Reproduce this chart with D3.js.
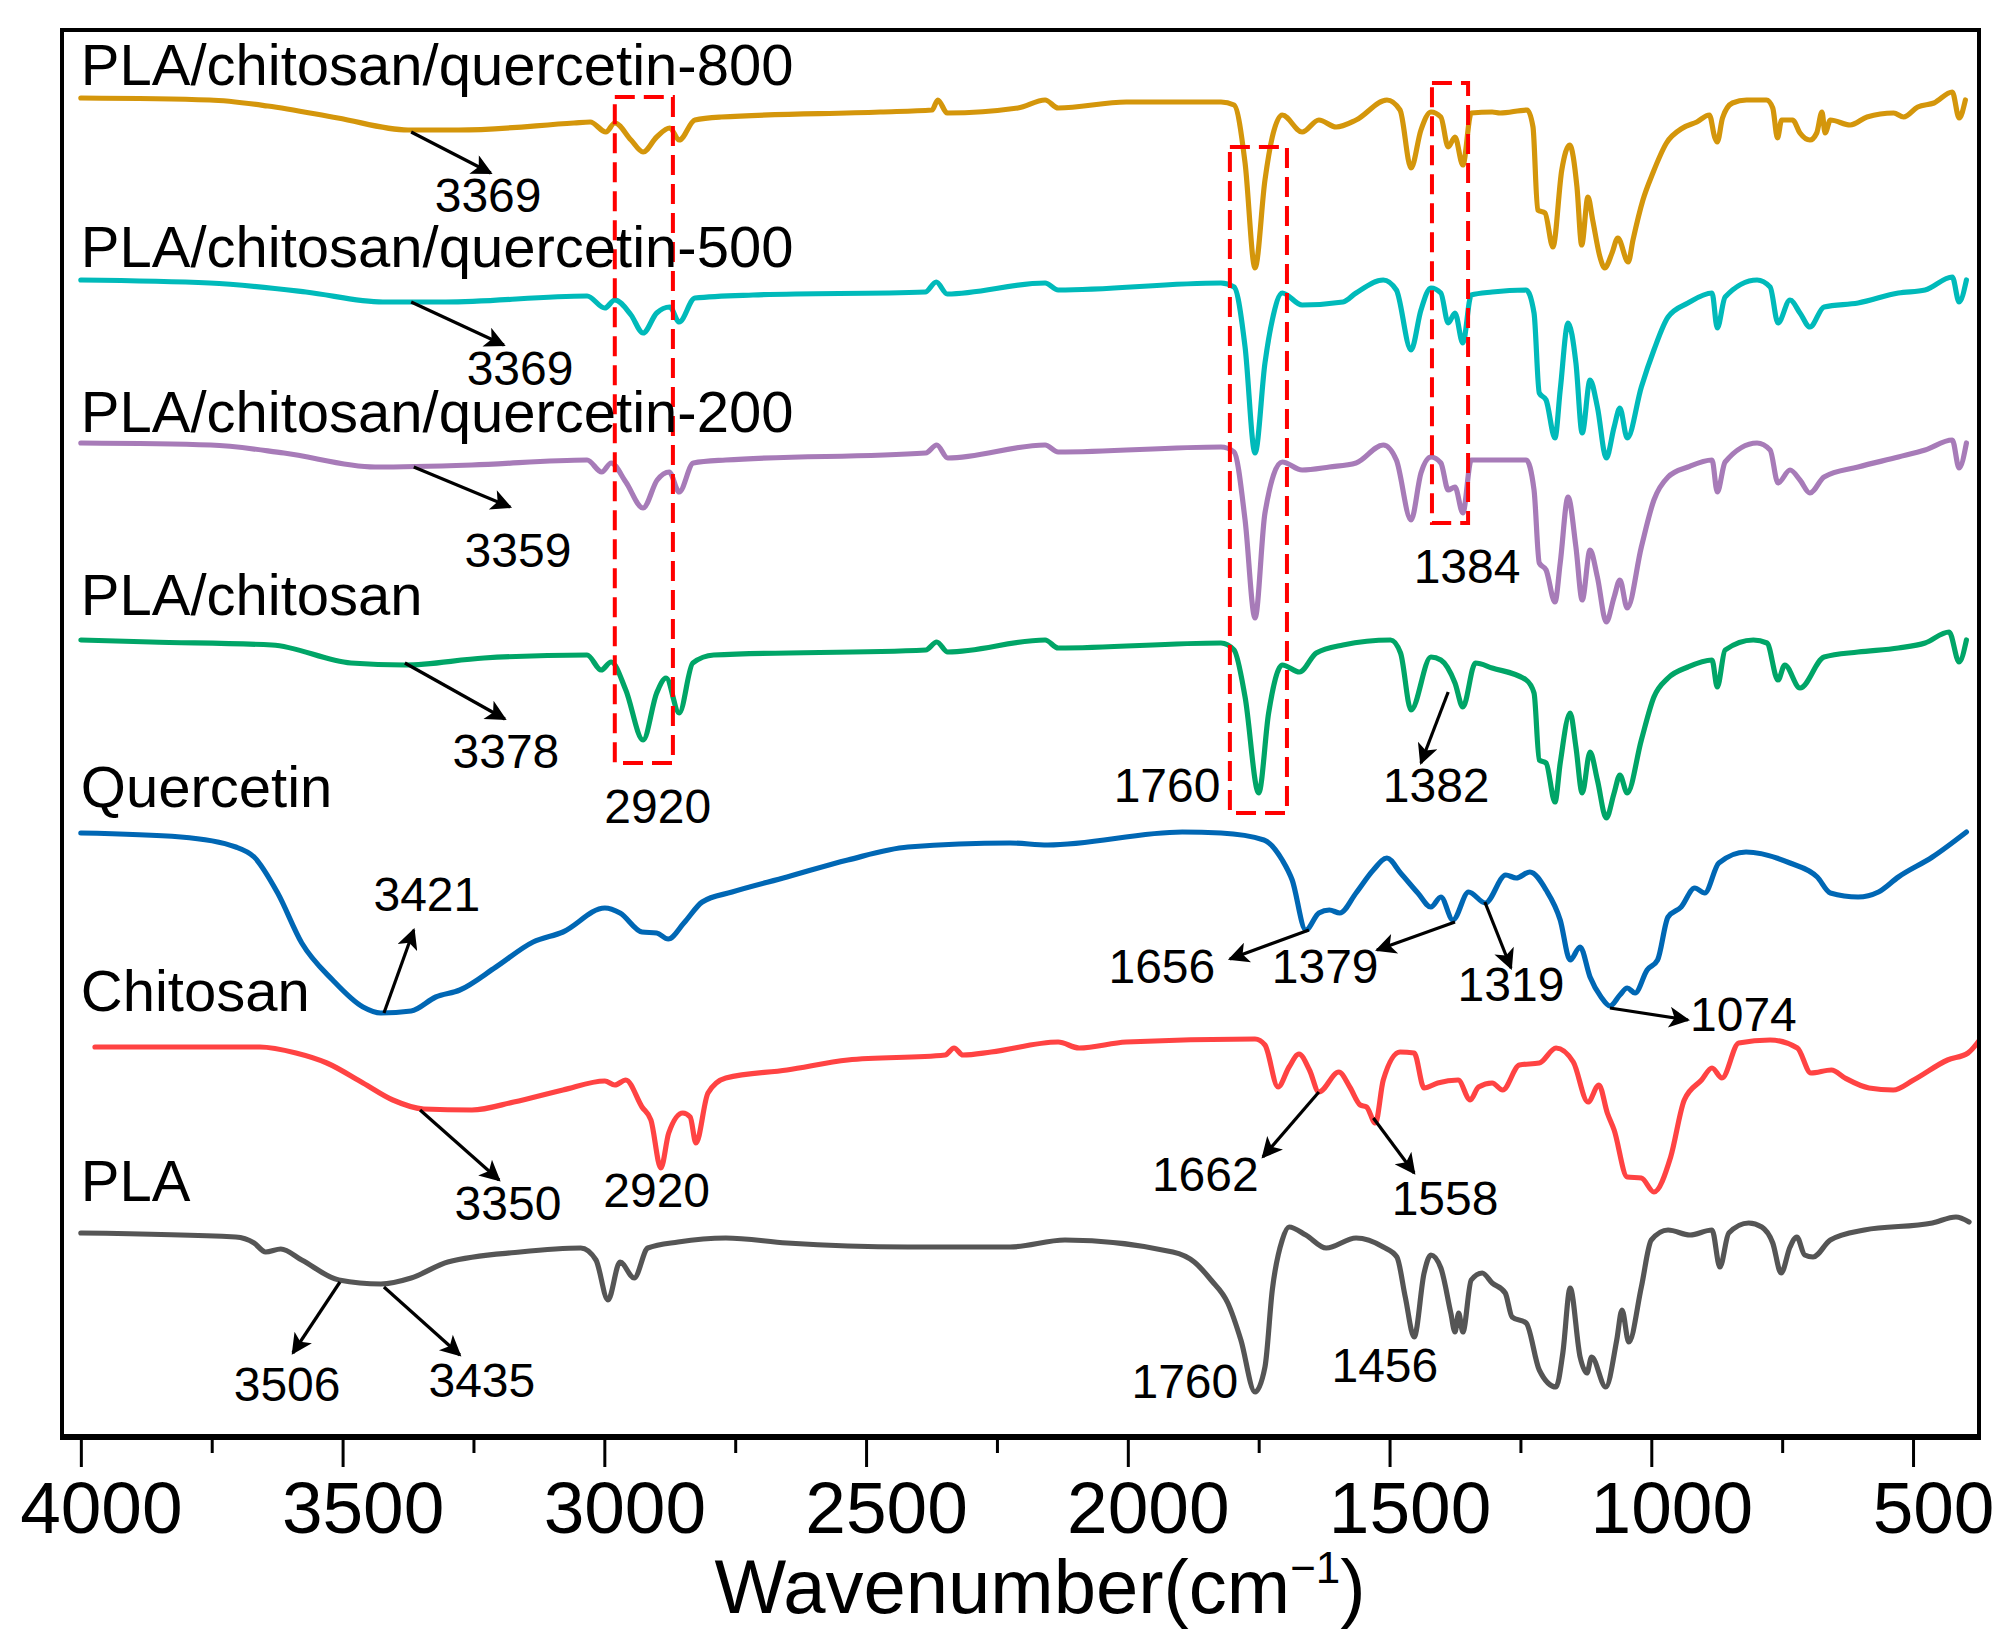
<!DOCTYPE html>
<html><head><meta charset="utf-8">
<script src="https://cdn.jsdelivr.net/npm/d3@7"></script>
<style>body{margin:0;background:#fff}svg{display:block}text{font-family:"Liberation Sans",Arial,sans-serif}</style>
</head><body>
<svg id="c" width="2012" height="1646"></svg>
<script>
// ---------- data: [wavenumber, transmittance (a.u., offset per trace)] ----------
const pla = [[4000,20.4],[3704,20.0],[3669,19.4],[3647,18.5],[3618,18.8],[3578,17.7],[3507,15.7],[3427,15.3],[3369,15.9],[3299,17.5],[3161,18.5],[3045,18.9],[3016,17.7],[2993,13.7],[2970,17.5],[2943,15.9],[2917,18.9],[2859,19.5],[2768,19.9],[2651,19.4],[2420,19.0],[2225,19.0],[2120,19.7],[1914,18.5],[1873,17.5],[1841,15.7],[1809,13.4],[1784,9.7],[1757,4.5],[1738,7.0],[1724,14.7],[1705,19.7],[1692,21.0],[1660,20.2],[1621,18.9],[1564,19.9],[1512,19.0],[1486,18.0],[1470,14.0],[1453,10.0],[1434,16.4],[1421,18.2],[1402,16.9],[1383,12.4],[1375,10.5],[1368,12.4],[1360,10.5],[1344,15.7],[1323,16.4],[1304,15.4],[1279,14.4],[1266,12.0],[1239,11.4],[1214,6.7],[1182,5.0],[1169,8.4],[1155,14.9],[1136,8.0],[1123,6.4],[1114,8.0],[1087,5.0],[1066,9.7],[1056,12.7],[1043,9.5],[1019,15.0],[1000,19.7],[968,20.7],[926,20.2],[884,20.7],[869,17.0],[852,20.4],[814,21.4],[789,21.0],[768,19.4],[752,16.4],[735,19.0],[722,20.0],[707,18.2],[691,18.0],[658,19.7],[593,20.7],[463,21.4],[418,22.0],[393,21.5]];
const chitosan = [[3973,39.0],[3658,39.0],[3589,38.4],[3530,37.4],[3461,35.4],[3404,33.7],[3345,32.8],[3253,32.7],[3173,33.5],[3079,34.7],[2999,35.6],[2980,35.2],[2959,35.7],[2928,33.0],[2911,31.7],[2892,26.9],[2877,30.4],[2850,32.4],[2836,32.0],[2825,29.4],[2802,34.4],[2768,35.9],[2651,36.7],[2535,37.7],[2349,38.2],[2332,38.9],[2315,38.2],[2261,38.5],[2133,39.5],[2093,38.9],[2003,39.5],[1757,39.8],[1738,39.2],[1713,35.0],[1692,37.0],[1673,38.3],[1653,36.7],[1635,34.5],[1597,36.5],[1576,35.0],[1556,33.2],[1544,33.0],[1527,31.4],[1512,35.7],[1480,38.5],[1453,38.4],[1434,34.9],[1408,35.4],[1369,35.7],[1346,33.7],[1330,35.0],[1304,35.4],[1284,34.7],[1252,37.2],[1214,37.4],[1182,38.9],[1149,37.5],[1121,33.5],[1100,35.2],[1084,32.4],[1071,30.7],[1046,26.0],[1019,25.9],[995,24.5],[963,28.0],[937,33.7],[904,35.7],[884,36.9],[865,35.9],[833,39.4],[773,39.7],[721,38.9],[695,36.4],[656,36.7],[630,35.9],[584,34.9],[538,34.7],[499,35.7],[434,37.7],[395,38.4],[370,39.9]];
const quercetin = [[4000,60.4],[3809,60.0],[3704,59.0],[3669,58.0],[3624,54.4],[3578,49.4],[3519,45.7],[3461,43.0],[3427,42.4],[3369,42.6],[3322,44.0],[3276,44.7],[3207,47.0],[3136,49.5],[3079,50.5],[2999,52.9],[2970,52.4],[2928,50.5],[2900,50.4],[2878,49.8],[2848,51.4],[2813,53.5],[2756,54.5],[2651,56.0],[2535,57.7],[2420,59.0],[2225,59.4],[2153,59.2],[1896,60.5],[1822,60.4],[1740,59.7],[1705,57.7],[1686,55.7],[1660,50.7],[1635,52.4],[1615,52.7],[1595,52.4],[1564,54.4],[1531,56.7],[1505,57.9],[1479,56.4],[1446,54.4],[1421,53.0],[1402,54.0],[1379,51.7],[1349,54.5],[1317,53.4],[1278,56.2],[1258,55.9],[1232,56.5],[1201,54.7],[1174,51.7],[1155,47.7],[1136,49.0],[1117,46.0],[1096,44.0],[1079,43.1],[1060,44.2],[1046,44.9],[1031,44.4],[1008,46.7],[988,47.7],[968,52.0],[943,53.0],[917,54.9],[898,54.4],[871,57.4],[819,58.5],[735,57.4],[683,56.0],[658,54.4],[605,54.0],[566,54.5],[528,56.0],[463,58.0],[398,60.5]];
const plaChitosan = [[4000,79.7],[3866,79.5],[3635,79.2],[3484,77.4],[3381,77.2],[3230,77.9],[3033,78.2],[3006,76.7],[2987,77.5],[2959,74.7],[2926,69.7],[2900,74.4],[2882,75.9],[2857,72.4],[2831,77.4],[2791,78.2],[2386,78.7],[2365,79.5],[2344,78.5],[2158,79.7],[2133,78.9],[1822,79.4],[1797,78.7],[1776,74.0],[1750,64.4],[1731,72.4],[1705,77.2],[1672,76.5],[1640,78.4],[1589,79.2],[1498,79.7],[1479,78.4],[1459,72.7],[1421,78.0],[1402,77.7],[1375,75.4],[1360,73.0],[1336,77.4],[1304,76.9],[1239,75.7],[1224,74.4],[1214,67.7],[1201,67.4],[1184,63.5],[1174,67.4],[1155,72.4],[1144,69.0],[1132,64.4],[1117,68.5],[1103,65.7],[1086,61.9],[1071,64.4],[1060,66.2],[1046,64.4],[1019,69.7],[995,74.0],[968,75.9],[930,77.0],[884,77.7],[874,75.0],[859,78.7],[805,79.7],[779,79.4],[758,75.7],[745,77.2],[716,74.9],[670,78.0],[605,78.5],[528,78.9],[477,79.4],[431,80.5],[412,77.5],[398,79.7]];
const pcq200 = [[4000,99.4],[3752,99.2],[3612,98.4],[3438,97.0],[3253,97.2],[3033,97.7],[3005,96.5],[2987,97.4],[2959,95.5],[2926,92.9],[2899,95.7],[2876,96.5],[2857,94.5],[2830,97.4],[2768,97.7],[2386,98.4],[2365,99.2],[2344,97.9],[2158,99.2],[2133,98.5],[1822,99.0],[1797,98.5],[1776,91.7],[1757,81.9],[1738,92.4],[1705,97.5],[1667,96.7],[1615,97.0],[1564,97.4],[1512,99.2],[1487,97.7],[1459,91.7],[1440,96.4],[1421,98.0],[1402,97.4],[1388,94.7],[1375,95.0],[1360,92.4],[1344,97.7],[1239,97.7],[1224,94.7],[1214,87.4],[1201,86.7],[1184,83.5],[1174,87.4],[1159,94.0],[1144,89.0],[1132,83.7],[1117,88.7],[1103,86.0],[1086,81.5],[1071,84.0],[1060,85.7],[1046,82.9],[1019,89.0],[995,93.7],[968,96.0],[930,97.0],[884,97.7],[874,94.5],[859,97.5],[798,99.4],[773,98.7],[758,95.4],[735,96.7],[716,95.7],[697,94.4],[670,96.0],[605,97.0],[528,98.0],[477,98.7],[425,99.7],[412,96.9],[398,99.4]];
const pcq500 = [[4000,115.7],[3754,115.4],[3570,114.5],[3423,113.5],[3303,113.5],[3033,114.1],[2999,112.9],[2980,113.7],[2949,112.2],[2926,110.4],[2900,112.4],[2875,113.0],[2857,111.5],[2827,113.9],[2716,114.2],[2387,114.5],[2366,115.5],[2345,114.3],[2158,115.4],[2133,114.7],[1822,115.4],[1797,115.0],[1776,109.0],[1757,98.4],[1738,107.4],[1724,111.7],[1705,114.4],[1667,113.2],[1589,113.5],[1564,114.4],[1512,115.7],[1487,114.7],[1459,108.7],[1440,112.7],[1421,114.9],[1402,114.4],[1388,111.4],[1375,112.4],[1360,109.4],[1344,114.2],[1304,114.5],[1239,114.7],[1224,112.4],[1214,104.4],[1201,103.7],[1184,99.9],[1174,104.7],[1159,111.4],[1144,107.4],[1132,100.4],[1117,105.7],[1103,103.0],[1086,97.9],[1071,101.0],[1060,102.9],[1046,99.9],[1019,105.0],[995,108.7],[968,112.0],[930,113.4],[884,114.4],[874,110.9],[859,114.0],[798,115.7],[773,115.0],[758,111.4],[735,113.7],[716,112.4],[697,111.0],[670,113.0],[605,113.4],[528,114.4],[477,114.7],[425,116.0],[412,113.5],[398,115.7]];
const pcq800 = [[4000,133.9],[3754,133.7],[3643,133.1],[3509,131.9],[3375,130.7],[3278,130.7],[3058,131.4],[3027,131.5],[2997,130.5],[2980,131.4],[2949,129.7],[2926,128.5],[2900,130.0],[2875,130.9],[2857,129.7],[2827,131.7],[2777,132.0],[2473,132.5],[2374,132.7],[2363,133.7],[2345,132.4],[2210,132.9],[2158,133.7],[2133,132.9],[2003,133.5],[1822,133.5],[1797,133.2],[1776,127.4],[1757,116.9],[1738,125.7],[1724,130.0],[1705,132.2],[1667,130.5],[1635,131.7],[1602,131.0],[1564,131.7],[1505,133.7],[1480,132.7],[1459,126.9],[1440,130.7],[1421,132.5],[1402,132.0],[1388,129.0],[1375,130.0],[1360,127.2],[1344,132.4],[1304,132.5],[1289,132.4],[1237,132.7],[1226,131.0],[1217,122.7],[1203,122.4],[1188,119.0],[1171,126.7],[1156,129.2],[1142,125.0],[1133,119.2],[1121,124.0],[1112,121.7],[1098,118.0],[1089,116.9],[1075,118.4],[1064,119.9],[1044,117.5],[1035,119.7],[1016,123.7],[997,126.4],[971,129.4],[940,130.9],[913,131.5],[889,132.2],[879,130.0],[874,129.5],[864,131.9],[845,133.4],[818,133.7],[780,133.7],[768,132.9],[759,129.9],[751,131.7],[730,131.7],[716,130.4],[697,129.7],[684,130.4],[674,132.5],[668,130.4],[658,131.7],[620,131.2],[588,132.0],[537,132.4],[518,132.0],[491,133.0],[460,133.4],[425,134.5],[412,131.9],[400,133.7]];

const seriesNames = ["PLA","Chitosan","Quercetin","PLA/chitosan","PLA/chitosan/quercetin-200","PLA/chitosan/quercetin-500","PLA/chitosan/quercetin-800"];
const seriesData = [pla, chitosan, quercetin, plaChitosan, pcq200, pcq500, pcq800];
const seriesColors = ["#555555","#ff4343","#0067b4","#00a567","#a77bb8","#00baba","#d4960b"];
const labelY = [23.6, 42.6, 63.0, 82.2, 100.5, 117.0, 135.2];

const majorTicks = [4000,3500,3000,2500,2000,1500,1000,500];
const minorTicks = [3750,3250,2750,2250,1750,1250,750];

// peak annotations: [label, labelWn, labelT, anchor, arrow from wn, from T, to wn, to T]
const annotations = [
 ["3369",3222,122.5,"middle",3369,130.5,3217,126.4],
 ["3369",3161,105.2,"middle",3369,113.5,3192,109.2],
 ["3359",3165,87.0,"middle",3364,97.0,3180,93.0],
 ["3378",3188,66.9,"middle",3381,77.4,3190,71.8],
 ["2920",2898,61.4,"middle",null],
 ["3421",3339,52.6,"middle",3421,42.4,3364,50.7],
 ["3350",3184,21.7,"middle",3352,32.7,3201,25.7],
 ["2920",2900,23.0,"middle",null],
 ["3506",3606,3.6,"middle",3505,15.5,3595,8.4],
 ["3435",3234,4.0,"middle",3421,15.0,3276,8.2],
 ["1384",1352,85.4,"middle",null],
 ["1760",1925,63.5,"middle",null],
 ["1382",1411,63.5,"middle",1388,74.5,1440,67.4],
 ["1656",1935,45.4,"middle",1654,50.7,1805,47.8],
 ["1379",1623,45.4,"middle",1375,51.5,1524,48.7],
 ["1319",1268,43.6,"middle",1318,53.5,1268,46.9],
 ["1074",926,40.6,"start",1079,42.9,930,41.7],
 ["1662",1852,24.6,"middle",1635,34.5,1742,28.0],
 ["1558",1394,22.2,"middle",1531,31.9,1453,26.4],
 ["1760",1891,3.9,"middle",null],
 ["1456",1509,5.5,"middle",null]
];
// dashed highlight boxes: [wnLeft, wnRight, Ttop, Tbottom]
const boxes = [[2980,2869,134.0,67.4],[1805,1696,129.0,62.4],[1419,1350,135.4,91.4]];

// ---------- drawing ----------
const svg = d3.select("#c");
const L = 62, R = 1979, T = 30, B = 1437;
const x = d3.scaleLinear().domain([4036, 374]).range([L, R]);
const y = d3.scaleLinear().domain([0, 140.7]).range([B, T]);

svg.append("defs").append("clipPath").attr("id","clip")
  .append("rect").attr("x",L).attr("y",T).attr("width",R-L).attr("height",B-T);
svg.select("defs").append("marker").attr("id","ah").attr("viewBox","0 0 10 10")
  .attr("refX",9).attr("refY",5).attr("markerWidth",8).attr("markerHeight",6.5)
  .attr("markerUnits","strokeWidth").attr("orient","auto")
  .append("path").attr("d","M0,0L10,5L0,10L2.5,5Z").attr("fill","#000");

const line = d3.line().x(d=>x(d[0])).y(d=>y(d[1])).curve(d3.curveMonotoneX);
const g = svg.append("g").attr("clip-path","url(#clip)");
seriesData.forEach((s,i)=>{
  g.append("path").datum(s).attr("d",line).attr("fill","none")
   .attr("stroke",seriesColors[i]).attr("stroke-width",5.2)
   .attr("stroke-linejoin","round").attr("stroke-linecap","round");
});

// boxes
boxes.forEach(b=>{
  svg.append("rect").attr("x",x(b[0])).attr("y",y(b[2]))
    .attr("width",x(b[1])-x(b[0])).attr("height",y(b[3])-y(b[2]))
    .attr("fill","none").attr("stroke","#ff0000").attr("stroke-width",4)
    .attr("stroke-dasharray","20,9");
});

// series labels
seriesNames.forEach((n,i)=>{
  svg.append("text").attr("x",x(4000)).attr("y",y(labelY[i]))
    .attr("font-size",58).attr("fill","#000").text(n);
});

// annotations
annotations.forEach(a=>{
  svg.append("text").attr("x",x(a[1])).attr("y",y(a[2])).attr("text-anchor",a[3])
    .attr("font-size",48).attr("fill","#000").text(a[0]);
  if(a[4]!==null){
    svg.append("line").attr("x1",x(a[4])).attr("y1",y(a[5])).attr("x2",x(a[6])).attr("y2",y(a[7]))
      .attr("stroke","#000").attr("stroke-width",3.2).attr("marker-end","url(#ah)");
  }
});

// frame
svg.append("rect").attr("x",L).attr("y",T).attr("width",R-L).attr("height",B-T)
  .attr("fill","none").attr("stroke","#000").attr("stroke-width",4);
svg.append("line").attr("x1",L-2).attr("x2",R+2).attr("y1",B).attr("y2",B)
  .attr("stroke","#000").attr("stroke-width",6);

// x axis
const ax = svg.append("g").attr("transform",`translate(0,${B+2})`);
ax.call(d3.axisBottom(x).tickValues(majorTicks).tickSize(28).tickFormat(d3.format("d")));
ax.select(".domain").remove();
ax.selectAll(".tick line").attr("stroke-width",3);
ax.selectAll(".tick text").attr("font-size",73).attr("font-family","Liberation Sans, Arial, sans-serif")
  .attr("dy",null).attr("y",94).attr("dx",20).attr("fill","#000");
const axm = svg.append("g").attr("transform",`translate(0,${B+2})`);
axm.call(d3.axisBottom(x).tickValues(minorTicks).tickSize(14).tickFormat(""));
axm.select(".domain").remove();
axm.selectAll(".tick line").attr("stroke-width",3);

const title = svg.append("text").attr("x",1040).attr("y",1613).attr("text-anchor","middle")
  .attr("font-size",76).attr("fill","#000");
title.append("tspan").text("Wavenumber(cm");
title.append("tspan").attr("font-size",44).attr("dy",-30).text("−1");
title.append("tspan").attr("dy",30).text(")");
</script>
</body></html>
